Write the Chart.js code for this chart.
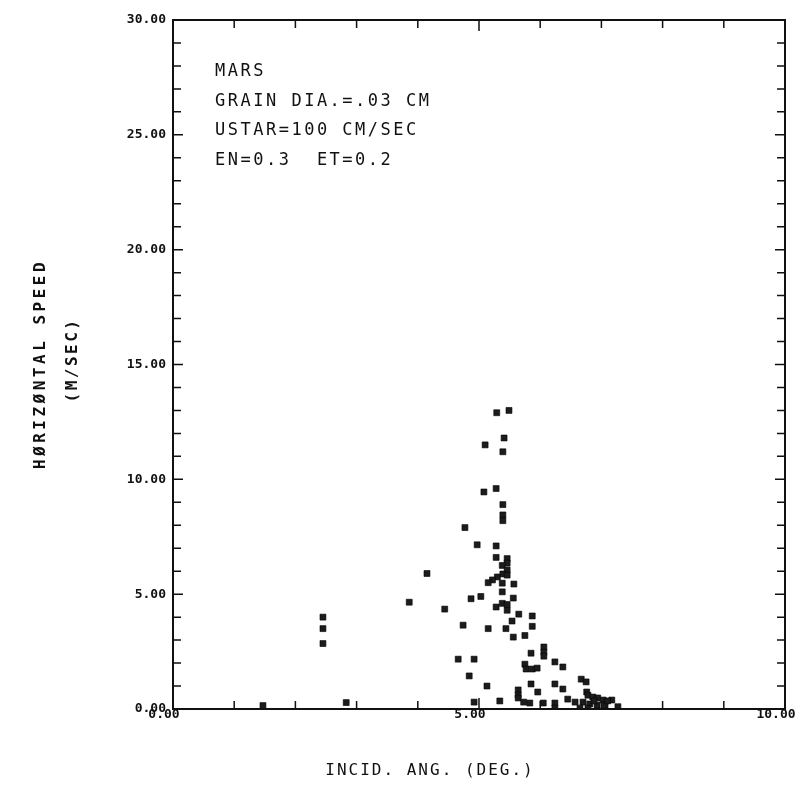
<!DOCTYPE html>
<html>
<head>
<meta charset="utf-8">
<title>Horizontal speed vs incidence angle</title>
<script src="https://cdn.jsdelivr.net/npm/chart.js@4.4.1/dist/chart.umd.min.js"></script>
<style>
  html, body { margin: 0; padding: 0; background: #ffffff; }
  #wrap { width: 805px; height: 798px; position: relative; }
</style>
</head>
<body>
<div id="wrap"><canvas id="c" width="805" height="798"></canvas></div>
<script>
// Incidence angle (deg) of each grain impact
const incidAngle = [
  1.47, 2.45, 2.45, 2.45, 2.83, 3.86, 4.15, 4.44, 4.66, 4.92,
  4.74, 4.84, 4.92, 4.77, 4.97, 4.87, 5.03, 5.08, 5.28, 5.10,
  5.29, 5.49, 5.41, 5.39, 5.39, 5.39, 5.39, 5.28, 5.28, 5.46,
  5.46, 5.38, 5.46, 5.39, 5.46, 5.30, 5.22, 5.15, 5.38, 5.57,
  5.38, 5.56, 5.38, 5.28, 5.46, 5.46, 5.65, 5.87, 5.54, 5.15,
  5.44, 5.87, 5.56, 5.75, 6.06, 6.06, 6.06, 5.85, 6.24, 6.37,
  5.75, 5.77, 5.87, 5.95, 6.67, 6.75, 5.85, 6.24, 5.96, 6.37,
  5.13, 5.64, 5.64, 5.64, 5.73, 5.83, 6.05, 6.24, 6.24, 5.34,
  6.45, 6.57, 6.76, 6.78, 6.86, 6.94, 7.03, 7.17, 6.70, 6.81,
  6.93, 7.06, 7.27, 6.78, 6.65, 7.10, 6.88
];
// Horizontal speed (m/s) of each grain impact
const horizSpeed = [
  0.15, 4.00, 3.50, 2.85, 0.28, 4.65, 5.90, 4.35, 2.17, 2.17,
  3.65, 1.44, 0.30, 7.90, 7.15, 4.80, 4.90, 9.45, 9.60, 11.50,
  12.90, 13.00, 11.80, 11.20, 8.90, 8.45, 8.20, 7.10, 6.60, 6.55,
  6.35, 6.25, 6.05, 5.88, 5.83, 5.75, 5.62, 5.50, 5.48, 5.44,
  5.10, 4.83, 4.60, 4.44, 4.30, 4.55, 4.13, 4.05, 3.83, 3.50,
  3.50, 3.60, 3.13, 3.20, 2.70, 2.47, 2.30, 2.43, 2.05, 1.83,
  1.95, 1.74, 1.74, 1.78, 1.30, 1.18, 1.09, 1.09, 0.74, 0.87,
  1.00, 0.83, 0.61, 0.48, 0.30, 0.26, 0.26, 0.26, 0.04, 0.35,
  0.43, 0.30, 0.74, 0.60, 0.52, 0.48, 0.39, 0.39, 0.30, 0.22,
  0.17, 0.17, 0.10, 0.04, 0.04, 0.35, 0.35
];
const xTickValues = [0, 5, 10];
const xTickLabels = ['0.00', '5.00', '10.00'];
const yTickLabels = ['0.00', '5.00', '10.00', '15.00', '20.00', '25.00', '30.00'];
const runNotes = ['MARS', 'GRAIN DIA.=.03 CM', 'USTAR=100 CM/SEC', 'EN=0.3  ET=0.2'];
const xTitle = 'INCID. ANG. (DEG.)';
const yTitle = ['HØRIZØNTAL SPEED', '(M/SEC)'];

const points = incidAngle.map((x, i) => ({ x: x, y: horizSpeed[i] }));
const INK = '#111111';
const MONO = '"DejaVu Sans Mono", "Liberation Mono", monospace';

// Frame with inward tick marks on all four sides, x labels, run notes and axis titles
const plotterFrame = {
  id: 'plotterFrame',
  afterDraw(chart) {
    const ctx = chart.ctx;
    const a = chart.chartArea;
    const xs = chart.scales.x, ys = chart.scales.y;
    ctx.save();
    ctx.strokeStyle = INK;
    ctx.lineWidth = 2;
    ctx.strokeRect(a.left, a.top, a.right - a.left, a.bottom - a.top);
    ctx.lineWidth = 1.5;
    ctx.beginPath();
    for (let v = 1; v < 10; v++) {
      const px = xs.getPixelForValue(v);
      const len = (v % 5 === 0) ? 11 : 8;
      ctx.moveTo(px, a.bottom); ctx.lineTo(px, a.bottom - len);
      ctx.moveTo(px, a.top); ctx.lineTo(px, a.top + len);
    }
    for (let v = 1; v < 30; v++) {
      const py = ys.getPixelForValue(v);
      const len = (v % 5 === 0) ? 10 : 8;
      ctx.moveTo(a.left, py); ctx.lineTo(a.left + len, py);
      ctx.moveTo(a.right, py); ctx.lineTo(a.right - len, py);
    }
    ctx.stroke();

    ctx.fillStyle = INK;
    ctx.textBaseline = 'middle';
    ctx.textAlign = 'center';
    ctx.font = 'bold 13px ' + MONO;
    xTickValues.forEach((v, i) => {
      ctx.fillText(xTickLabels[i], xs.getPixelForValue(v) - 9, a.bottom + 6);
    });

    ctx.textAlign = 'left';
    ctx.font = '17px ' + MONO;
    if ('letterSpacing' in ctx) ctx.letterSpacing = '2.5px';
    runNotes.forEach((t, i) => ctx.fillText(t, 215, 72 + i * 29.5));

    ctx.textAlign = 'center';
    ctx.font = '16px ' + MONO;
    if ('letterSpacing' in ctx) ctx.letterSpacing = '2px';
    ctx.fillText(xTitle, 430, 771);

    ctx.save();
    ctx.translate(41, 364);
    ctx.rotate(-Math.PI / 2);
    ctx.font = 'bold 16px ' + MONO;
    if ('letterSpacing' in ctx) ctx.letterSpacing = '3.5px';
    ctx.fillText(yTitle[0], 0, 0);
    ctx.restore();
    ctx.save();
    ctx.translate(73, 360);
    ctx.rotate(-Math.PI / 2);
    ctx.font = 'bold 16px ' + MONO;
    if ('letterSpacing' in ctx) ctx.letterSpacing = '2.5px';
    ctx.fillText(yTitle[1], 0, 0);
    ctx.restore();
    ctx.restore();
  }
};

new Chart(document.getElementById('c'), {
  type: 'scatter',
  data: {
    datasets: [{
      data: points,
      pointStyle: 'rect',
      pointRadius: 4.2,
      pointHoverRadius: 4.2,
      backgroundColor: '#1c1c1c',
      borderColor: '#000000',
      borderWidth: 0.6
    }]
  },
  options: {
    responsive: false,
    animation: false,
    layout: { padding: { top: 20, right: 20, left: 0, bottom: 0 } },
    plugins: { legend: { display: false }, tooltip: { enabled: false } },
    scales: {
      x: {
        type: 'linear', min: 0, max: 10,
        border: { display: false },
        grid: { display: false, drawTicks: false },
        ticks: { display: false, stepSize: 5 },
        afterFit: (s) => { s.height = 89; }
      },
      y: {
        type: 'linear', min: 0, max: 30,
        border: { display: false },
        grid: { display: false, drawTicks: false },
        ticks: {
          stepSize: 5, padding: 7, color: INK,
          font: { family: MONO, size: 13, weight: 'bold' },
          callback: (v) => yTickLabels[Math.round(v / 5)] ?? ''
        },
        afterFit: (s) => { s.width = 173; }
      }
    }
  },
  plugins: [plotterFrame]
});
</script>
</body>
</html>
